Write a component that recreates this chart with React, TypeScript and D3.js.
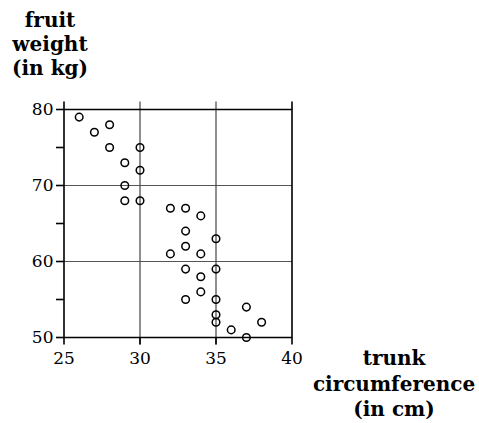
import React, { useEffect, useRef } from 'react';
import * as d3 from 'd3';

// trunk circumference (cm) and fruit weight (kg), one entry per tree
const circumference = [26, 27, 28, 28, 30, 29, 30, 29, 29, 30, 32, 33, 34, 33, 35, 33, 32, 34, 33, 35, 34, 34, 33, 35, 37, 35, 35, 38, 36, 37];
const weight = [79, 77, 78, 75, 75, 73, 72, 70, 68, 68, 67, 67, 66, 64, 63, 62, 61, 61, 59, 59, 58, 56, 55, 55, 54, 53, 52, 52, 51, 50];

const xTicks = [25, 30, 35, 40];
const yTicks = [50, 60, 70, 80];
const yMinorTicks = [55, 65, 75];

const yTitle = ['fruit', 'weight', '(in kg)'];
const xTitle = ['trunk', 'circumference', '(in cm)'];

export default function App() {
  const svgRef = useRef<SVGSVGElement>(null);

  useEffect(() => {
    if (!svgRef.current) return;
    const svg = d3.select(svgRef.current);
    svg.selectAll('*').remove();

    const left = 64, right = 292, top = 109.5, bottom = 337.5;
    const x = d3.scaleLinear().domain([25, 40]).range([left, right]);
    const y = d3.scaleLinear().domain([50, 80]).range([bottom, top]);
    const font = "'DejaVu Serif', serif";

    // gridlines
    svg.append('g')
      .selectAll('line')
      .data(yTicks.filter(v => v > 50 && v < 80))
      .join('line')
      .attr('x1', left).attr('x2', right)
      .attr('y1', d => y(d)).attr('y2', d => y(d))
      .attr('stroke', '#555').attr('stroke-width', 1.2);

    svg.append('g')
      .selectAll('line')
      .data(xTicks.filter(v => v > 25 && v < 40))
      .join('line')
      .attr('x1', d => x(d)).attr('x2', d => x(d))
      .attr('y1', top - 8).attr('y2', bottom + 7)
      .attr('stroke', '#444').attr('stroke-width', 1.2);

    // frame
    svg.append('path')
      .attr('d', `M${left},${top}H${right}V${bottom}H${left}Z`)
      .attr('fill', 'none').attr('stroke', '#000').attr('stroke-width', 1.6);

    // y ticks
    svg.append('g')
      .selectAll('line')
      .data([...yTicks, ...yMinorTicks])
      .join('line')
      .attr('x1', left - 8).attr('x2', left)
      .attr('y1', d => y(d)).attr('y2', d => y(d))
      .attr('stroke', '#000').attr('stroke-width', 1.6);

    svg.append('g')
      .selectAll('text')
      .data(yTicks)
      .join('text')
      .attr('x', left - 10.5)
      .attr('y', d => y(d) + 5)
      .attr('text-anchor', 'end')
      .attr('font-family', font)
      .attr('font-size', 17)
      .text(d => d);

    // x ticks, bottom for all, top at the frame edges
    svg.append('g')
      .selectAll('line')
      .data(xTicks)
      .join('line')
      .attr('x1', d => x(d)).attr('x2', d => x(d))
      .attr('y1', bottom).attr('y2', bottom + 7)
      .attr('stroke', '#000').attr('stroke-width', 1.6);

    svg.append('g')
      .selectAll('line')
      .data([25, 40])
      .join('line')
      .attr('x1', d => x(d)).attr('x2', d => x(d))
      .attr('y1', top - 8).attr('y2', top)
      .attr('stroke', '#000').attr('stroke-width', 1.6);

    svg.append('g')
      .selectAll('text')
      .data(xTicks)
      .join('text')
      .attr('x', d => x(d))
      .attr('y', bottom + 26)
      .attr('text-anchor', 'middle')
      .attr('font-family', font)
      .attr('font-size', 17)
      .text(d => d);

    // points
    svg.append('g')
      .selectAll('circle')
      .data(circumference.map((c, i) => [c, weight[i]]))
      .join('circle')
      .attr('cx', d => x(d[0]))
      .attr('cy', d => y(d[1]))
      .attr('r', 3.8)
      .attr('fill', 'none')
      .attr('stroke', '#000')
      .attr('stroke-width', 1.5);

    // axis titles
    svg.append('g')
      .selectAll('text')
      .data(yTitle)
      .join('text')
      .attr('x', 50)
      .attr('y', (d, i) => 27 + i * 24)
      .attr('text-anchor', 'middle')
      .attr('font-family', font)
      .attr('font-size', 20)
      .attr('font-weight', 'bold')
      .text(d => d);

    svg.append('g')
      .selectAll('text')
      .data(xTitle)
      .join('text')
      .attr('x', 394)
      .attr('y', (d, i) => 365 + i * 25.5)
      .attr('text-anchor', 'middle')
      .attr('font-family', font)
      .attr('font-size', 20)
      .attr('font-weight', 'bold')
      .text(d => d);
  }, []);

  return (
    <div style={{ position: 'absolute', left: 0, top: 0, background: '#fff' }}>
      <svg ref={svgRef} width={479} height={423} style={{ display: 'block' }} />
    </div>
  );
}
